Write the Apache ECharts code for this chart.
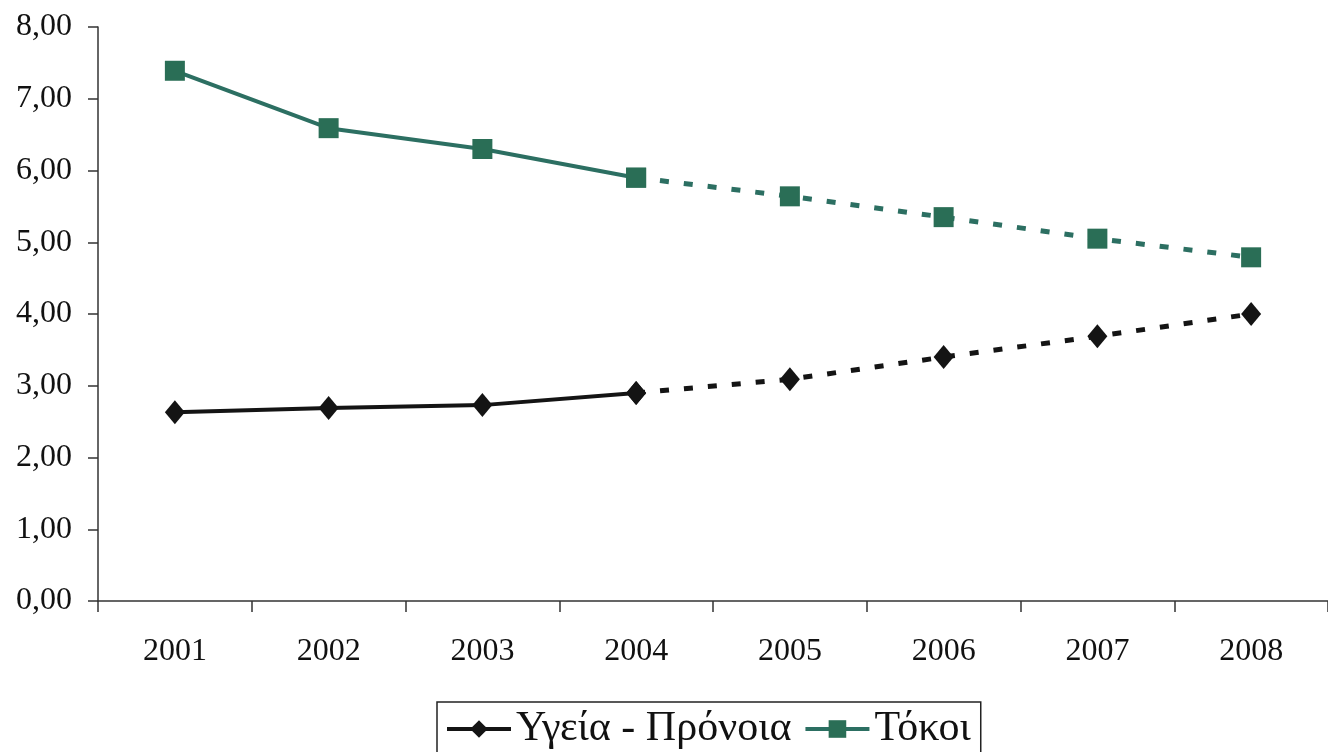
<!DOCTYPE html>
<html><head><meta charset="utf-8">
<script src="https://cdn.jsdelivr.net/npm/echarts@6/dist/echarts.min.js"></script>
<style>html,body{margin:0;padding:0;background:#fff}#c{width:1328px;height:752px}</style>
</head><body><div id="c"></div>
<script>
var categories = ['2001','2002','2003','2004','2005','2006','2007','2008'];
var yTicks = [0,1,2,3,4,5,6,7,8];
var healthName = 'Υγεία - Πρόνοια';
var interestName = 'Τόκοι';
var healthValues = [2.63, 2.69, 2.73, 2.90, 3.09, 3.40, 3.69, 4.00];
var interestValues = [7.39, 6.59, 6.30, 5.90, 5.64, 5.35, 5.05, 4.79];
var splitIndex = 3; // actual data up to 2004, forecast afterwards

function part(arr, solid){
  return arr.map(function(v,i){ return solid ? (i<=splitIndex?v:null) : (i>=splitIndex?v:null); });
}
var font = "'Liberation Serif', serif";
var black = '#141414', teal = '#2c6f62', tealMark = '#2a6e56';

var chart = echarts.init(document.getElementById('c'));
function mk(name, data, color, markColor, symbol, size, dashed, z){
  return {
    name: name, type: 'line', data: data, z: z,
    symbol: symbol, symbolSize: size, showSymbol: true,
    connectNulls: false, animation: false,
    lineStyle: {color: color, width: dashed?5:4, type: dashed?[9,15]:'solid'},
    itemStyle: {color: markColor, borderWidth: 0}
  };
}
chart.setOption({
  backgroundColor: '#fff',
  grid: {left: 98, right: 0, top: 27, bottom: 151, containLabel: false},
  xAxis: {
    type: 'category', data: categories, boundaryGap: true,
    axisLine: {lineStyle: {color: '#333', width: 1.5}},
    axisTick: {show: true, length: 11, lineStyle: {color: '#333', width: 1.5}},
    axisLabel: {fontFamily: font, fontSize: 32, color: '#111', margin: 35}
  },
  yAxis: {
    type: 'value', min: yTicks[0], max: yTicks[yTicks.length-1], interval: 1,
    axisLine: {show: true, lineStyle: {color: '#333', width: 1.5}},
    axisTick: {show: true, length: 10, lineStyle: {color: '#333', width: 1.5}},
    splitLine: {show: false},
    axisLabel: {fontFamily: font, fontSize: 32, color: '#111', margin: 26,
      formatter: function(v){ return v.toFixed(2).replace('.', ','); }}
  },
  legend: {
    data: [healthName, interestName],
    left: 437, top: 702,
    borderColor: '#222', borderWidth: 1.5,
    padding: [6, 10, 30, 8],
    itemWidth: 64, itemHeight: 22, itemGap: 12,
    lineStyle: {width: 4},
    textStyle: {fontFamily: font, fontSize: 42, color: '#111'}
  },
  series: [
    mk(healthName, part(healthValues,true), black, black, 'diamond', [20,24], false, 3),
    mk(healthName, part(healthValues,false), black, black, 'diamond', [20,24], true, 2),
    mk(interestName, part(interestValues,true), teal, tealMark, 'rect', 20, false, 3),
    mk(interestName, part(interestValues,false), teal, tealMark, 'rect', 20, true, 2)
  ]
});
</script></body></html>
